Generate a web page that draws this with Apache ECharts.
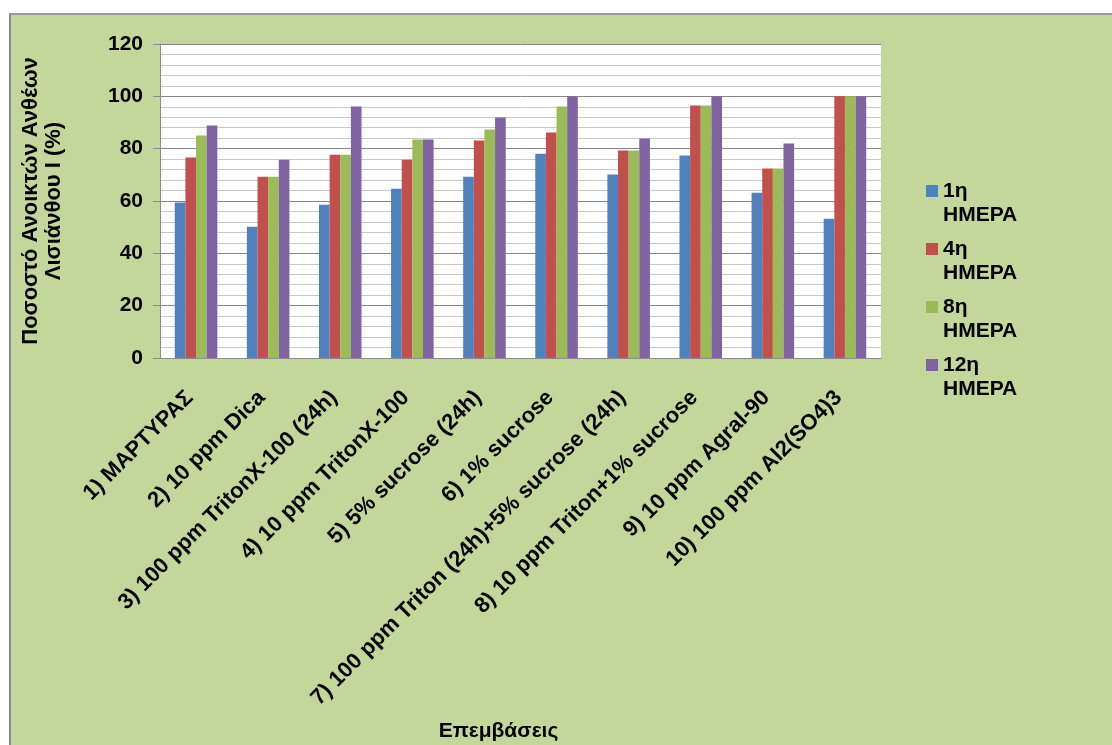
<!DOCTYPE html>
<html>
<head>
<meta charset="utf-8">
<script src="https://cdn.jsdelivr.net/npm/echarts@6/dist/echarts.min.js"></script>
<style>
    body { margin: 0; background: #ffffff; }
    #frame {
        position: absolute; left: 9px; top: 13px; width: 1110px; height: 740px;
        background: #c4d79b; border-left: 2px solid #8c8c8c; border-top: 2px solid #9a9a9a;
    }
    #chart { position: absolute; left: 0; top: 0; width: 1112px; height: 745px; }
</style>
</head>
<body>
<div id="frame"></div>
<div id="chart"></div>
<script>
var categories = ['1) ΜΑΡΤΥΡΑΣ', '2) 10 ppm Dica', '3) 100 ppm TritonX-100 (24h)', '4) 10 ppm TritonX-100',
    '5) 5% sucrose (24h)', '6) 1% sucrose', '7) 100 ppm Triton (24h)+5% sucrose (24h)',
    '8) 10 ppm Triton+1% sucrose', '9) 10 ppm Agral-90', '10) 100 ppm Al2(SO4)3']
var seriesNames = ['1η\nΗΜΕΡΑ', '4η\nΗΜΕΡΑ', '8η\nΗΜΕΡΑ', '12η\nΗΜΕΡΑ']
var day1 = [59.4, 50.2, 58.6, 64.7, 69.3, 78.1, 70.1, 77.4, 63.2, 53.2]
var day4 = [76.6, 69.3, 77.7, 75.8, 83.1, 86.2, 79.3, 96.5, 72.4, 100]
var day8 = [85.0, 69.3, 77.7, 83.5, 87.3, 96.1, 79.3, 96.5, 72.4, 100]
var day12 = [88.9, 75.8, 96.1, 83.5, 91.9, 100, 83.9, 100, 82.0, 100]
var colors = ['#4f81bd', '#c0504d', '#9bbb59', '#8064a2']

var font = 'Arial, "Liberation Sans", sans-serif'
var fs = 21
var chart = echarts.init(document.getElementById('chart'))

var allData = [day1, day4, day8, day12]
var series = []
for (let i = 0; i < allData.length; i++) {
    series.push({
        name: seriesNames[i],
        type: 'bar',
        data: allData[i],
        barGap: '0%',
        barCategoryGap: '41%',
        itemStyle: { color: colors[i] }
    })
}

var option = {
    animation: false,
    color: colors,
    textStyle: { fontFamily: font },
    grid: {
        left: 160, right: 231, top: 44, bottom: 387,
        show: true, backgroundColor: '#ffffff', borderWidth: 0
    },
    legend: {
        orient: 'vertical',
        left: 926,
        top: 155,
        padding: 0,
        itemWidth: 12,
        itemHeight: 12,
        itemGap: -14,
        icon: 'rect',
        // empty first line so the marker sits beside "1η" rather than the middle of the block
        formatter: function (name) { return '\n' + name },
        textStyle: { fontFamily: font, fontSize: fs, fontWeight: 'bold', color: '#000', lineHeight: 24 }
    },
    xAxis: {
        type: 'category',
        data: categories,
        name: 'Επεμβάσεις',
        nameLocation: 'middle',
        nameGap: 363,
        nameTextStyle: { fontFamily: font, fontSize: fs, fontWeight: 'bold', color: '#000', padding: [0, 44, 0, 0] },
        axisLine: { lineStyle: { color: '#8c8c8c', width: 1 } },
        axisTick: { show: false },
        axisLabel: {
            rotate: 45, interval: 0, margin: 30, padding: [0, 9, 0, 0],
            fontFamily: font, fontSize: 22, fontWeight: 'bold', color: '#000'
        }
    },
    yAxis: {
        type: 'value',
        min: 0, max: 120, interval: 20,
        name: 'Ποσοστό Ανοικτών Ανθέων\nΛισιάνθου Ι (%)',
        nameLocation: 'middle',
        nameRotate: 90,
        nameGap: 95,
        nameTextStyle: { fontFamily: font, fontSize: 22, fontWeight: 'bold', color: '#000', lineHeight: 23 },
        axisLine: { show: true, lineStyle: { color: '#8c8c8c', width: 1 } },
        axisTick: { show: true, length: 7, lineStyle: { color: '#8c8c8c' } },
        axisLabel: { margin: 17, fontFamily: font, fontSize: fs, fontWeight: 'bold', color: '#000' },
        splitLine: { lineStyle: { color: '#868686', width: 1 } },
        minorTick: { show: false, splitNumber: 5 },
        minorSplitLine: { show: true, lineStyle: { color: '#c8c8c8', width: 1 } }
    },
    series: series
}
chart.setOption(option)
</script>
</body>
</html>
